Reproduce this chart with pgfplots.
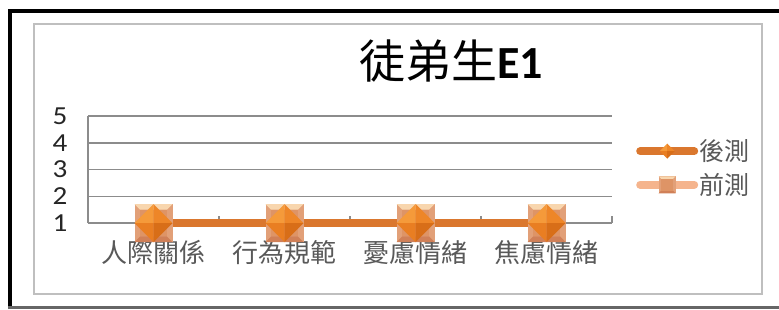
\documentclass[border=0pt]{standalone}
\usepackage{pgfplots}
\pgfplotsset{compat=1.18}
\usepackage{fontspec}
\setmainfont{Carlito}
\newfontfamily\cjk{Noto Sans CJK TC}
\newfontfamily\num[FakeStretch=1.12]{Carlito}
\definecolor{gridgray}{HTML}{8C8C8C}
\definecolor{postline}{HTML}{DA772E}
\definecolor{preline}{HTML}{F5B48D}
\definecolor{dTL}{HTML}{F59A3A}
\definecolor{dTR}{HTML}{EE8628}
\definecolor{dBL}{HTML}{E97E22}
\definecolor{dBR}{HTML}{D86E18}
\definecolor{sTop}{HTML}{F8D6AE}
\definecolor{sSide}{HTML}{E2A078}
\definecolor{sBot}{HTML}{D08058}
\definecolor{sMid}{HTML}{DE9466}
\pgfdeclareplotmark{bdiamond}{%
  \begin{pgfscope}
  \pgfpathmoveto{\pgfpointorigin}\pgfpathlineto{\pgfqpoint{-\pgfplotmarksize}{0pt}}\pgfpathlineto{\pgfqpoint{0pt}{\pgfplotmarksize}}\pgfpathclose
  \pgfsetfillcolor{dTL}\pgfusepathqfill
  \pgfpathmoveto{\pgfpointorigin}\pgfpathlineto{\pgfqpoint{\pgfplotmarksize}{0pt}}\pgfpathlineto{\pgfqpoint{0pt}{\pgfplotmarksize}}\pgfpathclose
  \pgfsetfillcolor{dTR}\pgfusepathqfill
  \pgfpathmoveto{\pgfpointorigin}\pgfpathlineto{\pgfqpoint{-\pgfplotmarksize}{0pt}}\pgfpathlineto{\pgfqpoint{0pt}{-\pgfplotmarksize}}\pgfpathclose
  \pgfsetfillcolor{dBL}\pgfusepathqfill
  \pgfpathmoveto{\pgfpointorigin}\pgfpathlineto{\pgfqpoint{\pgfplotmarksize}{0pt}}\pgfpathlineto{\pgfqpoint{0pt}{-\pgfplotmarksize}}\pgfpathclose
  \pgfsetfillcolor{dBR}\pgfusepathqfill
  \end{pgfscope}}
\pgfdeclareplotmark{bsquare}{%
  \begin{pgfscope}
  \pgfpathrectanglecorners{\pgfqpoint{-\pgfplotmarksize}{-\pgfplotmarksize}}{\pgfqpoint{\pgfplotmarksize}{\pgfplotmarksize}}
  \pgfsetfillcolor{sSide}\pgfusepathqfill
  \pgfpathmoveto{\pgfqpoint{-\pgfplotmarksize}{\pgfplotmarksize}}\pgfpathlineto{\pgfqpoint{\pgfplotmarksize}{\pgfplotmarksize}}\pgfpathlineto{\pgfqpoint{0.7\pgfplotmarksize}{0.7\pgfplotmarksize}}\pgfpathlineto{\pgfqpoint{-0.7\pgfplotmarksize}{0.7\pgfplotmarksize}}\pgfpathclose
  \pgfsetfillcolor{sTop}\pgfusepathqfill
  \pgfpathmoveto{\pgfqpoint{-\pgfplotmarksize}{-\pgfplotmarksize}}\pgfpathlineto{\pgfqpoint{\pgfplotmarksize}{-\pgfplotmarksize}}\pgfpathlineto{\pgfqpoint{0.7\pgfplotmarksize}{-0.7\pgfplotmarksize}}\pgfpathlineto{\pgfqpoint{-0.7\pgfplotmarksize}{-0.7\pgfplotmarksize}}\pgfpathclose
  \pgfsetfillcolor{sBot}\pgfusepathqfill
  \pgfpathrectanglecorners{\pgfqpoint{-0.7\pgfplotmarksize}{-0.7\pgfplotmarksize}}{\pgfqpoint{0.7\pgfplotmarksize}{0.7\pgfplotmarksize}}
  \pgfsetfillcolor{sMid}\pgfusepathqfill
  \end{pgfscope}}
\begin{document}
\begin{tikzpicture}
\useasboundingbox (0pt,0pt) rectangle (779pt,309pt);
\fill[white] (0pt,0pt) rectangle (779pt,309pt);
\draw[line width=4pt] (10pt,0pt) -- (10pt,298pt) -- (779pt,298pt);
\draw[line width=3pt, color=black!60] (8pt,1.5pt) -- (779pt,1.5pt);
\draw[line width=1.5pt, color=black!25] (34pt,15pt) rectangle (762pt,285pt);
\begin{axis}[
  at={(88pt,86pt)}, anchor=south west, scale only axis,
  width=524pt, height=107pt,
  xmin=-0.5, xmax=3.5, ymin=1, ymax=5,
  ytick={1,2,3,4,5},
  xtick={0,1,2,3},
  xticklabels={人際關係,行為規範,憂慮情緒,焦慮情緒},
  minor xtick={0.5,1.5,2.5,3.5},
  axis x line*=bottom, axis y line*=left,
  axis line style={-, color=gridgray, line width=1.5pt},
  ymajorgrids, grid style={color=gridgray, line width=1.5pt},
  major tick length=0pt, minor tick length=7pt, tick align=inside,
  minor tick style={color=gridgray, line width=1.2pt},
  clip=false,
  /pgf/number format/assume math mode=true,
  yticklabel style={font=\num\fontsize{26}{28}\selectfont, color=black!85, xshift=-17pt},
  xticklabel style={font=\cjk\fontsize{26}{28}\selectfont, color=black!65, yshift=-14pt},
  title={{\cjk 徒弟生}{\bfseries E1}},
  title style={font=\fontsize{46}{50}\selectfont, at={(axis description cs:0.693,1.29)}, anchor=base},
  legend style={at={(axis description cs:1.0458,0.514)}, anchor=west, draw=none, fill=none,
    font=\cjk\fontsize{25}{27}\selectfont, text=black!65, row sep=9pt, inner sep=0pt,
    nodes={inner sep=1pt}},
  legend cell align=left,
  reverse legend,
]
\addplot[color=preline, line width=8pt, mark=bsquare, mark size=19pt,
  legend image code/.code={\draw[line width=8pt, line cap=round, color=preline] (4pt,0pt) -- (58pt,0pt);
    \path[mark=bsquare, mark size=8.5pt] plot coordinates {(31pt,0pt)};}]
  coordinates {(0,1) (1,1) (2,1) (3,1)};
\addlegendentry{前測}
\addplot[color=postline, line width=8pt, mark=bdiamond, mark size=19pt,
  legend image code/.code={\draw[line width=8pt, line cap=round, color=postline] (4pt,0pt) -- (58pt,0pt);
    \path[mark=bdiamond, mark size=7.5pt] plot coordinates {(31pt,0pt)};}]
  coordinates {(0,1) (1,1) (2,1) (3,1)};
\addlegendentry{後測}
\end{axis}
\end{tikzpicture}
\end{document}
